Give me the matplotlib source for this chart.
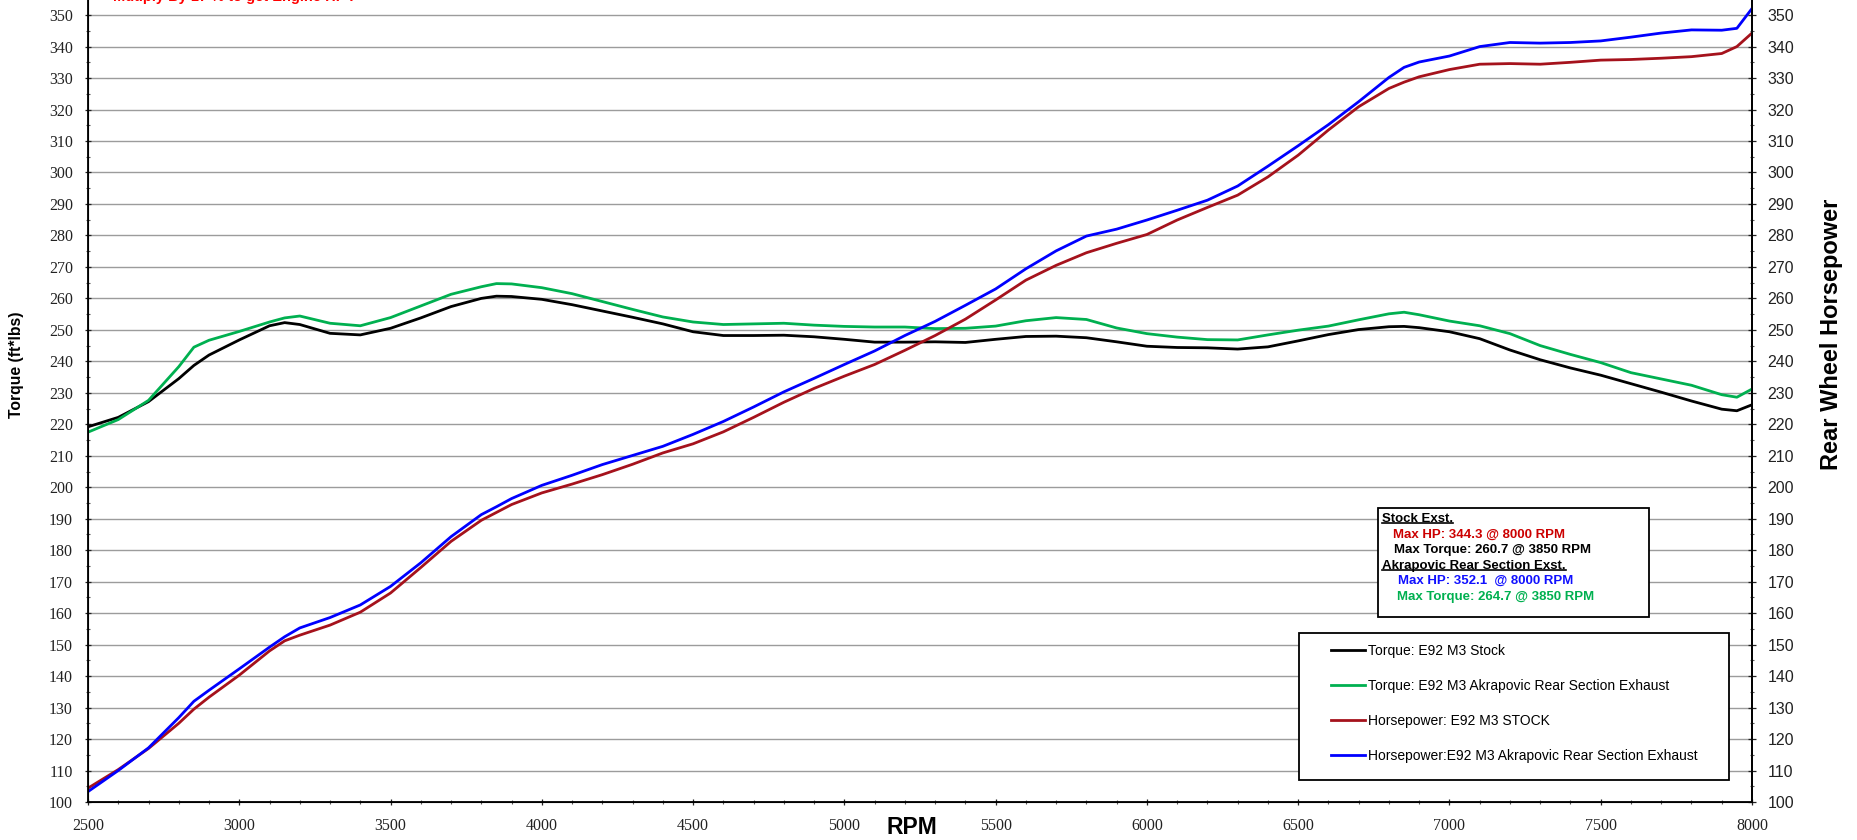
import matplotlib
matplotlib.use("Agg")
import matplotlib.pyplot as plt
from matplotlib.patches import Rectangle
from matplotlib.lines import Line2D
from matplotlib.ticker import MultipleLocator
from matplotlib.transforms import IdentityTransform

# dyno data
rpm = [2500, 2600, 2700, 2800, 2850, 2900, 3000, 3100, 3150, 3200, 3300, 3400,
       3500, 3600, 3700, 3800, 3850, 3900, 4000, 4100, 4200, 4300, 4400, 4500,
       4600, 4700, 4800, 4900, 5000, 5100, 5200, 5300, 5400, 5500, 5600, 5700,
       5800, 5900, 6000, 6100, 6200, 6300, 6400, 6500, 6600, 6700, 6800, 6850,
       6900, 7000, 7100, 7200, 7300, 7400, 7500, 7600, 7700, 7800, 7900, 7950,
       8000]

tq_stock = [219.2, 222.2, 227.2, 234.5, 238.7, 242.0, 246.8, 251.3, 252.3, 251.7,
            248.9, 248.4, 250.5, 253.8, 257.4, 260.0, 260.7, 260.6, 259.7, 258.0,
            256.0, 254.0, 251.9, 249.4, 248.2, 248.2, 248.3, 247.8, 247.0, 246.1,
            246.1, 246.2, 246.0, 247.0, 247.9, 248.0, 247.5, 246.2, 244.8, 244.4,
            244.3, 243.9, 244.6, 246.5, 248.5, 250.1, 251.0, 251.1, 250.7, 249.4,
            247.2, 243.6, 240.5, 237.9, 235.6, 232.9, 230.2, 227.4, 224.8, 224.3,
            226.2]

tq_akra = [217.5, 221.5, 227.6, 238.3, 244.5, 246.7, 249.5, 252.5, 253.8, 254.4,
           252.1, 251.3, 253.9, 257.6, 261.3, 263.7, 264.7, 264.6, 263.4, 261.5,
           259.0, 256.5, 254.1, 252.5, 251.7, 251.9, 252.1, 251.5, 251.1, 250.9,
           250.9, 250.4, 250.5, 251.2, 252.9, 253.9, 253.3, 250.6, 248.8, 247.7,
           246.9, 246.8, 248.4, 249.9, 251.2, 253.2, 255.1, 255.6, 254.8, 252.8,
           251.3, 248.8, 245.0, 242.2, 239.6, 236.4, 234.4, 232.4, 229.4, 228.6,
           231.2]

hp_stock = [104.4, 110.3, 117.0, 125.0, 129.5, 133.3, 140.3, 148.0, 151.2, 153.0,
            156.2, 160.3, 166.4, 174.5, 182.8, 189.5, 192.0, 194.5, 198.2, 201.0,
            204.0, 207.3, 210.9, 213.8, 217.6, 222.2, 227.0, 231.4, 235.3, 239.0,
            243.5, 248.2, 253.4, 259.5, 265.8, 270.5, 274.5, 277.5, 280.3, 284.9,
            288.9, 292.8, 298.6, 305.5, 313.5, 320.9, 326.7, 328.7, 330.4, 332.7,
            334.4, 334.6, 334.4, 335.0, 335.7, 335.9, 336.3, 336.8, 337.8, 340.0,
            344.3]

hp_akra = [103.3, 110.0, 117.2, 126.8, 132.0, 135.5, 142.3, 149.2, 152.5, 155.3,
           158.6, 162.6, 168.5, 176.0, 184.3, 191.3, 193.8, 196.4, 200.6, 203.8,
           207.2, 210.1, 213.0, 216.8, 220.9, 225.5, 230.3, 234.6, 239.0, 243.3,
           248.2, 252.7, 257.8, 263.0, 269.4, 275.1, 279.8, 282.0, 284.9, 288.0,
           291.2, 295.7, 302.0, 308.5, 315.2, 322.5, 330.2, 333.4, 335.1, 337.0,
           340.0, 341.3, 341.1, 341.3, 341.8, 343.0, 344.3, 345.3, 345.2, 345.8,
           352.1]

labels = ["Torque: E92 M3 Stock",
          "Torque: E92 M3 Akrapovic Rear Section Exhaust",
          "Horsepower: E92 M3 STOCK",
          "Horsepower:E92 M3 Akrapovic Rear Section Exhaust"]
colors = ["#000000", "#00b050", "#a5121c", "#0000ff"]

SANS = "Liberation Sans"
SERIF = "Liberation Serif"

W, H = 1858, 840
fig = plt.figure(figsize=(W / 100, H / 100), dpi=100)
ax = fig.add_axes([88 / W, 38 / H, 1664 / W, 802 / H])

ax.set_xlim(2500, 8000)
ax.set_ylim(100, 354.8)

# horizontal grid
for v in range(100, 360, 10):
    ax.axhline(v, color="#9c9c9c", lw=1.0, zorder=1)

series = [tq_stock, tq_akra, hp_stock, hp_akra]
handles = []
for s, c, lab in zip(series, colors, labels):
    h, = ax.plot(rpm, s, color=c, lw=2.0, label=lab, zorder=3,
                 solid_joinstyle="round")
    handles.append(h)

# axes / ticks
ax.spines["top"].set_visible(False)
for sp in ["left", "bottom", "right"]:
    ax.spines[sp].set_linewidth(1.3)

ax.xaxis.set_major_locator(MultipleLocator(500))
ax.xaxis.set_minor_locator(MultipleLocator(100))
ax.yaxis.set_major_locator(MultipleLocator(10))
ax.yaxis.set_minor_locator(MultipleLocator(5))
ax.tick_params(axis="both", which="major", direction="inout", length=5,
               width=0.9, colors="#222222", labelsize=11.5)
ax.tick_params(axis="both", which="minor", direction="inout", length=3,
               width=0.8, color="#555555")
ax.tick_params(axis="y", which="major", pad=8.3)
ax.tick_params(axis="x", which="major", pad=9)
for t in ax.get_xticklabels() + ax.get_yticklabels():
    t.set_fontfamily(SERIF)

ax2 = ax.twinx()
ax2.set_ylim(ax.get_ylim())
ax2.spines["top"].set_visible(False)
ax2.spines["right"].set_linewidth(1.3)
ax2.yaxis.set_major_locator(MultipleLocator(10))
ax2.yaxis.set_minor_locator(MultipleLocator(5))
ax2.tick_params(axis="y", which="major", direction="inout", length=6,
                width=0.9, colors="#222222", labelsize=11.5, pad=8.3)
ax2.tick_params(axis="y", which="minor", direction="inout", length=3.5,
                width=0.8, color="#555555")
for t in ax2.get_yticklabels():
    t.set_fontfamily(SANS)

# axis titles
fig.text(17 / W, 1 - 365 / H, "Torque (ft*lbs)", rotation=90, ha="center",
         va="center", fontsize=11.3, fontweight="bold", family=SANS)
fig.text(1832 / W, 1 - 334 / H, "Rear Wheel Horsepower", rotation=90,
         ha="center", va="center", fontsize=17, fontweight="bold", family=SANS)
fig.text(912 / W, 1 - 834 / H, "RPM", ha="center", va="baseline",
         fontsize=16.5, fontweight="bold", family=SANS)
# cut off at the top edge, as in the original
fig.text(113 / W, 1 - 1 / H, "Mutiply By 17 % to get Engine HP .",
         ha="left", va="baseline", fontsize=10.5, fontweight="bold",
         color="#ff0000", family=SANS)

# legend (frame drawn separately)
ax.add_patch(Rectangle((0.7278, 0.0274), 0.2584, 0.1833, transform=ax.transAxes,
                       facecolor="white", edgecolor="black", lw=1.3, zorder=5))
leg = ax.legend(handles=handles, loc="upper left", bbox_to_anchor=(0.747, 0.197),
                frameon=False, borderpad=0, borderaxespad=0,
                handlelength=2.45, handletextpad=0.2, labelspacing=1.5,
                prop={"family": SANS, "size": 10})
leg.set_zorder(6)

# max values box
ax.add_patch(Rectangle((0.7752, 0.2307), 0.1629, 0.1359, transform=ax.transAxes,
                       facecolor="white", edgecolor="black", lw=1.3, zorder=5))
box_lines = [
    (0.7776, 0.3529, "Stock Exst.", "black", True),
    (0.7843, 0.3336, "Max HP: 344.3 @ 8000 RPM", "#cc0000", False),
    (0.7849, 0.3140, "Max Torque: 260.7 @ 3850 RPM", "black", False),
    (0.7776, 0.2943, "Akrapovic Rear Section Exst.", "black", True),
    (0.7873, 0.2756, "Max HP: 352.1  @ 8000 RPM", "#1010ff", False),
    (0.7867, 0.2557, "Max Torque: 264.7 @ 3850 RPM", "#00b050", False),
]
under = []
for x, y, txt, c, ul in box_lines:
    t = ax.text(x, y, txt, transform=ax.transAxes, ha="left", va="center",
                fontsize=9.5, fontweight="bold", color=c, family=SANS, zorder=7)
    if ul:
        under.append(t)

fig.canvas.draw()
for t in under:
    bb = t.get_window_extent()
    yl = bb.y0 + 1.5
    fig.add_artist(Line2D([bb.x0, bb.x1], [yl, yl], transform=IdentityTransform(),
                          color="black", lw=1.2, zorder=8))

fig.savefig("out.png", dpi=100)
